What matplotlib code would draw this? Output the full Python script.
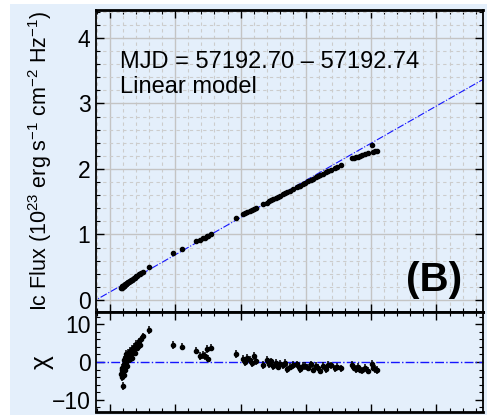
import numpy as np
import matplotlib.pyplot as plt
from matplotlib.ticker import MultipleLocator
from matplotlib.patches import Rectangle

plt.rcParams['font.family'] = ['Liberation Sans', 'DejaVu Sans']
plt.rcParams['mathtext.fontset'] = 'custom'
plt.rcParams['mathtext.rm'] = 'Liberation Sans'
plt.rcParams['mathtext.it'] = 'Liberation Sans:italic'

# linear model  F = a*x + b
slope = 0.568
intercept = 0.122

# flux points (x, Ic flux) and residuals chi
x_ic = [0.17, 0.18, 0.18, 0.19, 0.19, 0.20, 0.20, 0.21, 0.21, 0.22, 0.22, 0.23,
        0.23, 0.24, 0.24, 0.25, 0.26, 0.26, 0.27, 0.28, 0.29, 0.30, 0.31, 0.32,
        0.33, 0.34, 0.35, 0.37, 0.38, 0.40, 0.42, 0.44, 0.46, 0.48, 0.50,
        0.60, 0.97, 1.10,
        1.32, 1.38, 1.42, 1.45, 1.48, 1.50, 1.55,
        1.925, 2.041, 2.075, 2.103, 2.144, 2.175, 2.210, 2.236, 2.348, 2.400,
        2.435, 2.466, 2.501, 2.542, 2.577, 2.603, 2.649, 2.680, 2.706, 2.757,
        2.807, 2.859, 2.887, 2.910, 2.956, 2.986, 3.037, 3.078, 3.109, 3.155,
        3.185, 3.216, 3.262, 3.308, 3.338, 3.384, 3.446, 3.476, 3.533,
        3.701, 3.737, 3.767, 3.798, 3.828, 3.859, 3.905, 3.951, 4.005, 4.028,
        4.058, 4.089]
flux_ic = [0.19, 0.20, 0.19, 0.21, 0.20, 0.20, 0.21, 0.22, 0.21, 0.22, 0.23, 0.23,
           0.24, 0.24, 0.25, 0.25, 0.26, 0.26, 0.27, 0.27, 0.28, 0.29, 0.29, 0.30,
           0.31, 0.31, 0.32, 0.34, 0.34, 0.36, 0.37, 0.39, 0.40, 0.41, 0.42,
           0.51, 0.72, 0.78,
           0.90, 0.92, 0.94, 0.95, 0.98, 0.97, 1.01,
           1.245, 1.305, 1.322, 1.336, 1.357, 1.372, 1.390, 1.403, 1.460, 1.487,
           1.505, 1.520, 1.538, 1.559, 1.577, 1.590, 1.613, 1.629, 1.642, 1.668,
           1.694, 1.720, 1.734, 1.746, 1.769, 1.785, 1.810, 1.831, 1.847, 1.870,
           1.886, 1.902, 1.925, 1.948, 1.964, 1.987, 2.018, 2.034, 2.062,
           2.16, 2.17, 2.18, 2.19, 2.20, 2.21, 2.23, 2.24, 2.37, 2.26,
           2.27, 2.28]
chi_ic = [-3.2, -2.0, -4.0, -1.5, -3.0, -6.4, -2.5, -0.5, -3.5, -1.8, 0.5, -2.2,
          1.0, -0.8, 2.2, 0.0, 1.5, -1.0, 2.5, 0.5, 1.8, 3.0, 0.8, 2.0,
          3.5, 1.2, 2.8, 4.0, 2.5, 4.8, 3.8, 5.5, 4.5, 6.0, 6.8,
          8.5, 4.5, 4.1,
          3.0, 1.6, 1.9, 1.6, 3.5, 0.9, 3.8,
          2.1, 0.8, 0.0, 1.0, 0.5, -0.3, 1.6, 0.2, -0.8, 0.5,
          -0.5, 0.2, -1.0, -0.2, -1.2, -0.5, -0.9, -0.3, -1.8, -1.2,
          -0.8, -0.6, -1.4, -1.8, -1.1, -1.0, -1.5, -0.6, -2.0, -1.0,
          -1.5, -2.3, -1.0, -1.8, -0.8, -0.9, -1.7, -1.2, -1.7,
          -0.8, -1.5, -1.8, -1.2, -2.0, -2.2, -1.6, -2.3, -0.4, -1.5,
          -1.8, -2.1]

x_ticks = [0, 1, 2, 3, 4, 5]
flux_ticks = [0, 1, 2, 3, 4]
chi_ticks = [-10, 0, 10]

bg = '#E4EFFB'
fig = plt.figure(figsize=(4.91, 4.19), dpi=100, facecolor='white')
fig.patches.append(Rectangle((10 / 491, 1 - 415 / 419), 477 / 491, 411 / 419,
                             transform=fig.transFigure, facecolor=bg,
                             edgecolor='none', zorder=-10))

ax1 = fig.add_axes([0.1955, 0.2561, 0.7882, 0.7200])
ax2 = fig.add_axes([0.1955, 0.0174, 0.7882, 0.2387], sharex=ax1)

x = np.array(x_ic)
xl = np.array([-0.3, 6.0])

ax1.plot(xl, slope * xl + intercept, color='#1515FF', lw=0.8, ls='-.', zorder=2)
ax1.errorbar(x, flux_ic, xerr=0.02, yerr=0.01, fmt='o', ms=3, color='black',
             elinewidth=1.0, capsize=0, zorder=3)

ax2.axhline(0, color='#1515FF', lw=1.0, ls='-.', zorder=2)
ax2.errorbar(x, chi_ic, yerr=1.0, fmt='o', ms=3, color='black',
             elinewidth=1.1, capsize=0, zorder=3)

ax1.set_xlim(-0.214, 5.712)
ax1.set_ylim(-0.179, 4.427)
ax2.set_ylim(-13.25, 13.41)

for ax in (ax1, ax2):
    ax.set_facecolor(bg)
    ax.set_xticks(x_ticks)
    ax.xaxis.set_minor_locator(MultipleLocator(0.2))
    ax.tick_params(which='both', direction='in', top=True, right=True,
                   labelsize=16.5, pad=4)
    ax.tick_params(which='major', length=6, width=1.0)
    ax.tick_params(which='minor', length=3, width=0.8)
    for side in ax.spines.values():
        side.set_linewidth(1.3)

ax1.spines['top'].set_linewidth(2.0)
ax1.spines['bottom'].set_linewidth(2.0)
ax2.spines['top'].set_linewidth(2.0)
ax2.spines['bottom'].set_linewidth(2.0)

ax1.set_yticks(flux_ticks)
ax1.yaxis.set_minor_locator(MultipleLocator(0.2))
ax1.grid(which='major', color='#C4C4C4', lw=1.0, ls='-', zorder=0)
ax1.grid(which='minor', color='#CCCCCC', lw=0.8, ls=(0, (3, 3)), zorder=0)
ax1.set_axisbelow(True)
ax1.tick_params(labelbottom=False)

ax2.set_yticks(chi_ticks)
ax2.set_yticklabels(['\u221210', '0', '10'])
ax2.yaxis.set_minor_locator(MultipleLocator(2))
ax2.tick_params(axis='x', which='major', pad=8)

ax1.set_ylabel(r'Ic Flux (10$^{23}$ erg s$^{-1}$ cm$^{-2}$ Hz$^{-1}$)',
               fontsize=15.5, va='center')
ax1.yaxis.set_label_coords(-0.145, 0.5)
ax2.set_ylabel('\u03c7', fontsize=19, va='center')
ax2.yaxis.set_label_coords(-0.140, 0.5)

ax1.text(0.153, 3.54, 'MJD = 57192.70 \u2013 57192.74', fontsize=17,
         va='baseline', ha='left')
ax1.text(0.153, 3.165, 'Linear model', fontsize=17, va='baseline', ha='left')
ax1.text(5.386, 0.142, '(B)', fontsize=29, fontweight='bold',
         va='baseline', ha='right')

fig.savefig('out.png', dpi=100, facecolor='white')
